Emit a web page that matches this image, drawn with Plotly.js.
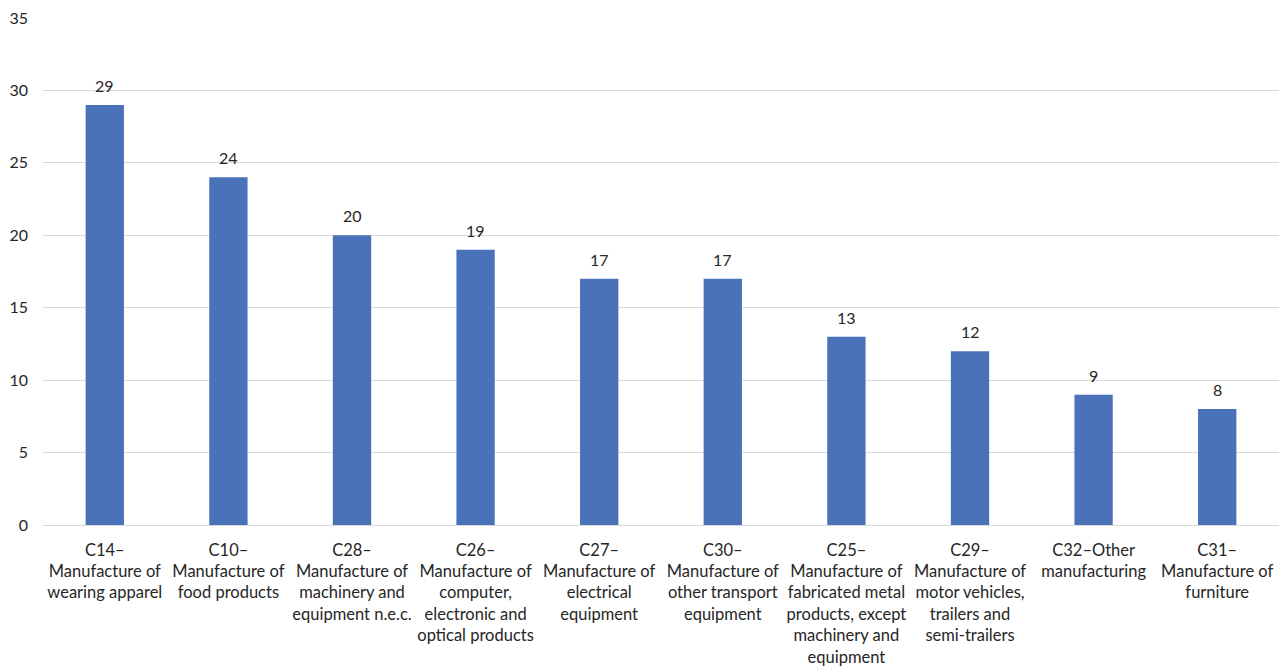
<!DOCTYPE html>
<html>
<head>
<meta charset="utf-8">
<script src="https://cdn.plot.ly/plotly-3.0.1.min.js"></script>
<style>html,body{margin:0;padding:0;background:#fff;}#chart{width:1286px;height:670px;}</style>
</head>
<body>
<div id="chart"></div>
<script>
var categories = [
  "C14–<br>Manufacture of<br>wearing apparel",
  "C10–<br>Manufacture of<br>food products",
  "C28–<br>Manufacture of<br>machinery and<br>equipment n.e.c.",
  "C26–<br>Manufacture of<br>computer,<br>electronic and<br>optical products",
  "C27–<br>Manufacture of<br>electrical<br>equipment",
  "C30–<br>Manufacture of<br>other transport<br>equipment",
  "C25–<br>Manufacture of<br>fabricated metal<br>products, except<br>machinery and<br>equipment",
  "C29–<br>Manufacture of<br>motor vehicles,<br>trailers and<br>semi-trailers",
  "C32–Other<br>manufacturing",
  "C31–<br>Manufacture of<br>furniture"
];
var values = [29, 24, 20, 19, 17, 17, 13, 12, 9, 8];
var yTicks = [0, 5, 10, 15, 20, 25, 30, 35];

var FONT = 'Lato, "Open Sans", sans-serif';
var TXT = '#262626';

var trace = {
  type: 'bar',
  x: categories,
  y: values,
  marker: {color: '#4A72B9'},
  hoverinfo: 'x+y'
};

var labels = categories.map(function (c, i) {
  return {
    x: c, y: values[i], xref: 'x', yref: 'y',
    text: String(values[i]),
    showarrow: false,
    yanchor: 'bottom',
    yshift: 8,
    font: {family: FONT, size: 16, color: TXT}
  };
});

var layout = {
  width: 1286,
  height: 670,
  margin: {l: 43, r: 7, t: 18, b: 145},
  paper_bgcolor: '#ffffff',
  plot_bgcolor: '#ffffff',
  bargap: 0.69,
  showlegend: false,
  font: {family: FONT, size: 15, color: TXT},
  annotations: labels,
  xaxis: {
    type: 'category',
    tickfont: {family: FONT, size: 16.5, color: TXT},
    tickangle: 0,
    showline: false,
    ticks: '',
    ticklabelstandoff: 13,
    automargin: false
  },
  yaxis: {
    range: [0, 35],
    tickvals: yTicks,
    ticktext: yTicks.map(String),
    showgrid: true,
    gridcolor: '#d9d9d9',
    gridwidth: 1,
    zeroline: true,
    zerolinecolor: '#d9d9d9',
    zerolinewidth: 1,
    tickfont: {family: FONT, size: 16, color: TXT},
    ticks: '',
    ticklabelstandoff: 14,
    automargin: false
  }
};

Plotly.newPlot('chart', [trace], layout, {displayModeBar: false, staticPlot: true});
</script>
</body>
</html>
